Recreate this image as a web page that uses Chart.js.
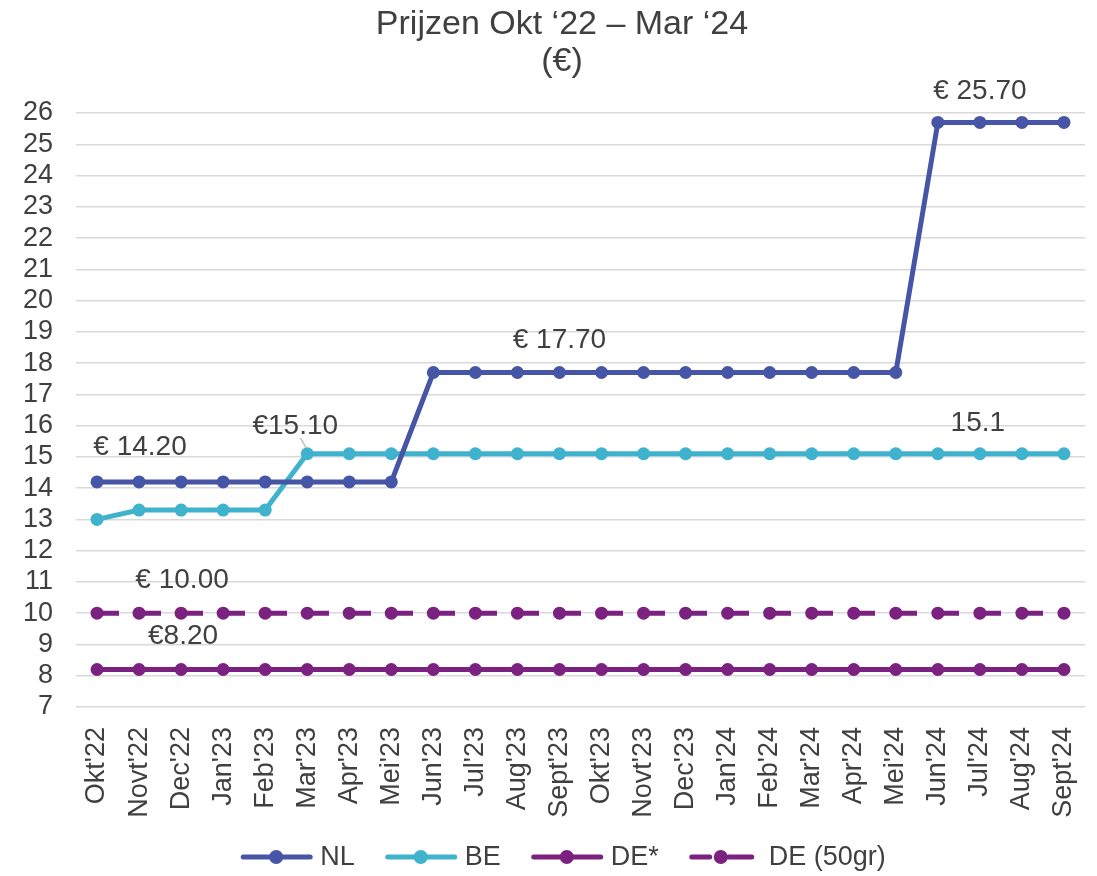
<!DOCTYPE html>
<html>
<head>
<meta charset="utf-8">
<script src="https://cdn.jsdelivr.net/npm/chart.js@4/dist/chart.umd.min.js"></script>
<style>
  html, body { margin: 0; padding: 0; background: #fff; }
  #wrap { width: 1097px; height: 876px; }
</style>
</head>
<body>
<div id="wrap"><canvas id="chart" width="1097" height="876"></canvas></div>
<script>
const months = ["Okt'22", "Novt'22", "Dec'22", "Jan'23", "Feb'23", "Mar'23", "Apr'23", "Mei'23",
    "Jun'23", "Jul'23", "Aug'23", "Sept'23", "Okt'23", "Novt'23", "Dec'23", "Jan'24", "Feb'24",
    "Mar'24", "Apr'24", "Mei'24", "Jun'24", "Jul'24", "Aug'24", "Sept'24"];

const nlPrices = [14.2, 14.2, 14.2, 14.2, 14.2, 14.2, 14.2, 14.2,
    17.7, 17.7, 17.7, 17.7, 17.7, 17.7, 17.7, 17.7, 17.7, 17.7, 17.7, 17.7,
    25.7, 25.7, 25.7, 25.7];
const bePrices = [13.0, 13.3, 13.3, 13.3, 13.3, 15.1, 15.1, 15.1,
    15.1, 15.1, 15.1, 15.1, 15.1, 15.1, 15.1, 15.1, 15.1, 15.1, 15.1, 15.1,
    15.1, 15.1, 15.1, 15.1];
const dePrices = [8.2, 8.2, 8.2, 8.2, 8.2, 8.2, 8.2, 8.2, 8.2, 8.2, 8.2, 8.2,
    8.2, 8.2, 8.2, 8.2, 8.2, 8.2, 8.2, 8.2, 8.2, 8.2, 8.2, 8.2];
const de50Prices = [10, 10, 10, 10, 10, 10, 10, 10, 10, 10, 10, 10,
    10, 10, 10, 10, 10, 10, 10, 10, 10, 10, 10, 10];

const seriesNames = ['NL', 'BE', 'DE*', 'DE (50gr)'];
const yTicks = [7, 8, 9, 10, 11, 12, 13, 14, 15, 16, 17, 18, 19, 20, 21, 22, 23, 24, 25, 26];
const titleLines = ['Prijzen Okt \u201822 \u2013 Mar \u201824', '(\u20ac)'];

// data labels: [dataset, index, text]
const valueLabels = [
    [0, 0, '€ 14.20'],
    [1, 5, '€15.10'],
    [0, 11, '€ 17.70'],
    [0, 20, '€ 25.70'],
    [1, 20, '15.1'],
    [3, 1, '€ 10.00'],
    [2, 1, '€8.20'],
];
const labelOffsets = [[43, -35], [-12, -27], [0, -32], [42, -31], [40, -30], [43, -33], [44, -33]];

const font = "'Liberation Sans', Arial, sans-serif";
const textColor = '#404040';
const colors = { nl: '#4655a5', be: '#3fb3cd', de: '#7b2180' };

const layoutBottom = 45;

// title and legend drawn by hand so they can sit exactly where the original has them
const titleLegendPlugin = {
    id: 'titleLegend',
    afterDraw(chart) {
        const ctx = chart.ctx;
        ctx.save();
        ctx.fillStyle = textColor;
        ctx.textAlign = 'center';
        ctx.textBaseline = 'middle';
        ctx.font = '34px ' + font;
        ctx.fillText(titleLines[0], 562, 25);
        ctx.fillText(titleLines[1], 562, 62);

        ctx.font = '27px ' + font;
        const items = chart.data.datasets.map((d) => ({
            text: d.label,
            color: d.borderColor,
            dashed: d.borderDash.length > 0,
            w: 80 + ctx.measureText(d.label).width,
        }));
        const gap = 30;
        const total = items.reduce((s, it) => s + it.w, 0) + gap * (items.length - 1);
        let x = 563 - total / 2;
        const y = 857;
        items.forEach((it) => {
            ctx.strokeStyle = it.color;
            ctx.fillStyle = it.color;
            ctx.lineWidth = 5;
            ctx.lineCap = 'round';
            ctx.beginPath();
            let dotX;
            if (it.dashed) {
                ctx.moveTo(x + 3, y); ctx.lineTo(x + 21, y);
                ctx.moveTo(x + 40, y); ctx.lineTo(x + 63, y);
                dotX = x + 32;
            } else {
                ctx.moveTo(x + 3, y); ctx.lineTo(x + 70, y);
                dotX = x + 36;
            }
            ctx.stroke();
            ctx.beginPath();
            ctx.arc(dotX, y, 7, 0, Math.PI * 2);
            ctx.fill();
            ctx.fillStyle = textColor;
            ctx.textAlign = 'left';
            ctx.fillText(it.text, x + 80, y + 1);
            x += it.w + gap;
        });
        ctx.restore();
    },
};

const labelPlugin = {
    id: 'valueLabels',
    afterDatasetsDraw(chart) {
        const ctx = chart.ctx;
        ctx.save();
        ctx.font = '28px ' + font;
        ctx.fillStyle = textColor;
        ctx.textAlign = 'center';
        ctx.textBaseline = 'middle';
        valueLabels.forEach(([ds, i, text], k) => {
            const pt = chart.getDatasetMeta(ds).data[i];
            const [dx, dy] = labelOffsets[k];
            ctx.fillText(text, pt.x + dx, pt.y + dy);
        });
        // small leader line for the BE label
        const p = chart.getDatasetMeta(1).data[5];
        ctx.strokeStyle = '#bfbfbf';
        ctx.lineWidth = 1.5;
        ctx.beginPath();
        ctx.moveTo(p.x - 7, p.y - 16);
        ctx.lineTo(p.x - 1, p.y - 6);
        ctx.stroke();
        ctx.restore();
    },
};

function lineSet(label, data, color, dashed) {
    return {
        label,
        data,
        borderColor: color,
        backgroundColor: color,
        pointBackgroundColor: color,
        pointBorderColor: color,
        borderWidth: 5,
        pointRadius: 6.5,
        pointHoverRadius: 6.5,
        pointBorderWidth: 0,
        borderDash: dashed ? [22, 20] : [],
        tension: 0,
        pointStyle: 'circle',
    };
}

const datasets = [
    lineSet(seriesNames[0], nlPrices, colors.nl, false),
    lineSet(seriesNames[1], bePrices, colors.be, false),
    lineSet(seriesNames[2], dePrices, colors.de, false),
    lineSet(seriesNames[3], de50Prices, colors.de, true),
];

new Chart(document.getElementById('chart'), {
    type: 'line',
    data: { labels: months, datasets },
    options: {
        responsive: false,
        animation: false,
        layout: { padding: { left: 0, right: 12, top: 113, bottom: layoutBottom } },
        plugins: {
            title: { display: false },
            legend: { display: false },
            tooltip: { enabled: false },
        },
        scales: {
            x: {
                offset: true,
                afterFit: (scale) => {
                    scale.paddingLeft = 0;
                    scale.paddingRight = 0;
                    scale.height = scale.chart.height - layoutBottom - 707;
                },
                grid: { display: false, drawTicks: false },
                border: { display: false },
                ticks: {
                    color: textColor,
                    font: { family: font, size: 27 },
                    minRotation: 90,
                    maxRotation: 90,
                    autoSkip: false,
                    padding: 20,
                },
            },
            y: {
                min: 7,
                max: 26,
                afterFit: (scale) => {
                    scale.width = 76;
                    scale.paddingTop = 0;
                    scale.paddingBottom = 0;
                },
                afterBuildTicks: (scale) => { scale.ticks = yTicks.map((v) => ({ value: v })); },
                grid: { color: '#d9d9d9', lineWidth: 1.5, drawTicks: false },
                border: { display: false },
                ticks: {
                    color: textColor,
                    font: { family: font, size: 27 },
                    padding: 23,
                    autoSkip: false,
                },
            },
        },
    },
    plugins: [labelPlugin, titleLegendPlugin],
});
</script>
</body>
</html>
